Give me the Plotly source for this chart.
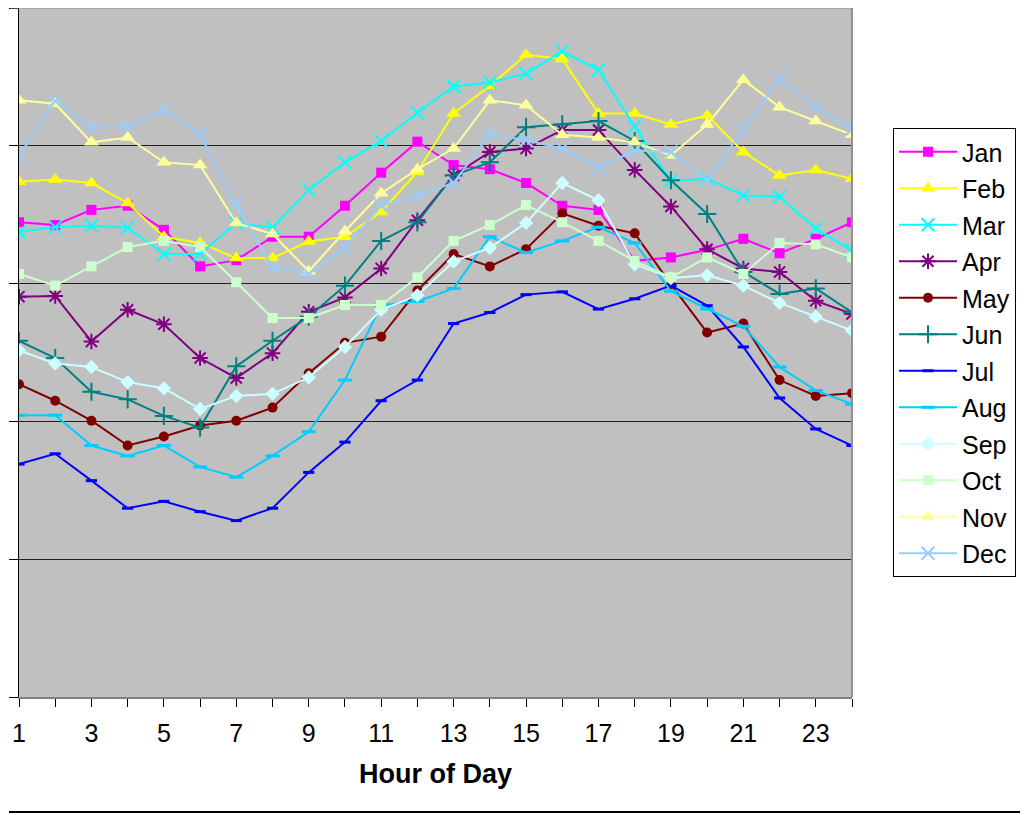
import plotly.graph_objects as go

hours = list(range(1, 25))
tick_labels = [str(h) if h % 2 == 1 else "" for h in hours]
months = ["Jan", "Feb", "Mar", "Apr", "May", "Jun", "Jul", "Aug", "Sep", "Oct", "Nov", "Dec"]

jan = [68.9, 68.5, 70.7, 71.3, 67.8, 62.5, 63.4, 66.8, 66.8, 71.3, 76.1, 80.6, 77.2, 76.6, 74.6, 71.3, 70.7, 63.3, 63.8, 64.9, 66.5, 64.4, 66.5, 68.9]
feb = [74.8, 75.1, 74.6, 71.7, 66.8, 65.9, 63.7, 63.7, 66.1, 66.8, 70.4, 76.2, 84.7, 88.7, 93.2, 92.6, 84.7, 84.7, 83.1, 84.4, 79.1, 75.7, 76.5, 75.2]
mar = [67.5, 68.2, 68.4, 68.1, 64.3, 64.3, 68.8, 68.1, 73.6, 77.6, 80.7, 84.8, 88.6, 89.2, 90.5, 93.7, 91.0, 82.8, 74.9, 75.2, 72.8, 72.6, 68.0, 64.8]
apr = [58.1, 58.2, 51.6, 56.2, 54.1, 49.2, 46.3, 49.9, 55.9, 58.0, 62.2, 69.2, 75.7, 79.1, 79.6, 82.3, 82.3, 76.5, 71.2, 65.0, 62.2, 61.7, 57.5, 55.6]
may = [45.4, 43.0, 40.1, 36.5, 37.8, 39.4, 40.1, 42.0, 47.0, 51.4, 52.3, 59.0, 64.3, 62.5, 65.0, 70.2, 68.4, 67.3, 59.9, 52.9, 54.2, 46.0, 43.7, 44.1]
jun = [51.7, 49.2, 44.3, 43.2, 40.8, 39.1, 48.0, 51.7, 55.2, 59.7, 66.2, 68.9, 75.7, 77.6, 82.7, 83.1, 83.6, 80.7, 75.0, 70.1, 61.7, 58.5, 59.3, 55.8]
jul = [33.8, 35.3, 31.4, 27.4, 28.4, 26.9, 25.6, 27.4, 32.6, 37.0, 43.0, 46.0, 54.2, 55.8, 58.4, 58.8, 56.3, 57.8, 59.7, 56.8, 50.8, 43.4, 38.9, 36.5]
aug = [40.9, 40.9, 36.5, 35.0, 36.5, 33.4, 31.9, 35.0, 38.5, 46.0, 56.9, 57.4, 59.3, 66.8, 64.5, 66.2, 68.2, 65.9, 58.9, 56.3, 53.8, 47.9, 44.5, 42.5]
sep = [50.3, 48.4, 47.9, 45.7, 44.8, 41.8, 43.7, 44.0, 46.4, 50.8, 56.2, 58.3, 63.2, 65.2, 68.8, 74.6, 72.1, 62.8, 60.8, 61.2, 59.7, 57.2, 55.2, 53.2]
oct_ = [61.4, 59.7, 62.5, 65.3, 66.2, 65.3, 60.2, 55.0, 55.0, 56.9, 56.9, 60.9, 66.2, 68.5, 71.4, 68.9, 66.2, 63.3, 60.9, 63.8, 61.4, 65.9, 65.7, 63.8]
nov = [86.6, 86.1, 80.5, 81.2, 77.6, 77.2, 68.8, 67.2, 61.8, 67.6, 73.1, 76.6, 79.6, 86.6, 85.9, 81.6, 81.2, 80.5, 78.6, 83.1, 89.6, 85.6, 83.6, 81.6]
dec = [78.5, 86.5, 82.7, 82.7, 85.2, 81.6, 71.4, 62.4, 61.4, 65.2, 71.3, 72.8, 74.6, 81.7, 80.8, 79.6, 76.8, 79.3, 79.1, 75.0, 82.4, 89.7, 85.7, 82.4]

series = [jan, feb, mar, apr, may, jun, jul, aug, sep, oct_, nov, dec]
colors = ["#FF00FF", "#FFFF00", "#00FFFF", "#800080", "#800000", "#008080",
          "#0000FF", "#00CCFF", "#CCFFFF", "#CCFFCC", "#FFFF99", "#99CCFF"]
symbols = ["square", "triangle-up", "x-thin-open", "asterisk-open", "circle", "cross-thin-open",
           "line-ew-open", "line-ew-open", "diamond", "square", "triangle-up", "x-thin-open"]
sizes = [10, 13, 13, 13, 10, 13, 8, 10, 11, 10, 13, 13]

fig = go.Figure()
for name, vals, col, sym, sz in zip(months, series, colors, symbols, sizes):
    open_sym = sym.endswith("open")
    fig.add_trace(go.Scatter(
        x=hours, y=vals, name=name, mode="lines+markers",
        legendgroup=name,
        line=dict(color=col, width=2),
        marker=dict(symbol=sym, size=sz, color=col,
                    line=dict(color=col, width=3 if sym == "line-ew-open" else (2 if open_sym else 0))),
    ))

# page coordinates (the browser page has an 8px body margin)
OFF = 8
W, H = 1028 - OFF, 815 - OFF
L, R, T, B = 19, 852, 8, 697          # plot area in page pixels
pw, ph = R - L, B - T

def px(x):
    return (x - L) / pw

def py(y):
    return (B - y) / ph

fig.update_layout(
    width=W, height=H,
    margin=dict(l=L - OFF, r=W - (R - OFF), t=T - OFF, b=H - (B - OFF), autoexpand=False),
    paper_bgcolor="white", plot_bgcolor="#C0C0C0",
    font=dict(family="Arial, Liberation Sans, sans-serif", color="black"),
    showlegend=True,
    legend=dict(
        x=px(893), y=py(128), xanchor="left", yanchor="top",
        bgcolor="white", bordercolor="black", borderwidth=1,
        font=dict(size=25, color="black"),
        tracegroupgap=1, itemwidth=58,
    ),
    xaxis=dict(
        range=[1, 24], tickmode="array", tickvals=hours, ticktext=tick_labels,
        ticks="outside", ticklen=8, tickcolor="black", tickwidth=1,
        tickfont=dict(size=25, color="black"), ticklabelstandoff=5,
        showgrid=False, zeroline=False,
        showline=True, linecolor="#808080", linewidth=2,
        title=dict(text="<b>Hour of Day</b>", font=dict(size=27, color="black"), standoff=18),
    ),
    yaxis=dict(
        range=[0, 100], dtick=20, showticklabels=False,
        ticks="outside", ticklen=9, tickcolor="black", tickwidth=1,
        showgrid=True, gridcolor="#202020", gridwidth=1,
        zeroline=False, showline=True, linecolor="black", linewidth=1,
    ),
    shapes=[
        dict(type="line", xref="paper", yref="paper", x0=px(852), x1=px(852), y0=0, y1=1,
             line=dict(color="#909090", width=2)),
        dict(type="line", xref="paper", yref="paper", x0=px(10), x1=px(852), y0=1, y1=1,
             line=dict(color="#909090", width=1)),
        dict(type="line", xref="paper", yref="paper", x0=px(3), x1=px(3), y0=py(0), y1=py(705),
             line=dict(color="#909090", width=2)),
        dict(type="line", xref="paper", yref="paper", x0=px(9), x1=px(1028), y0=py(812), y1=py(812),
             line=dict(color="black", width=2)),
    ],
)

fig.write_html("out.html")
